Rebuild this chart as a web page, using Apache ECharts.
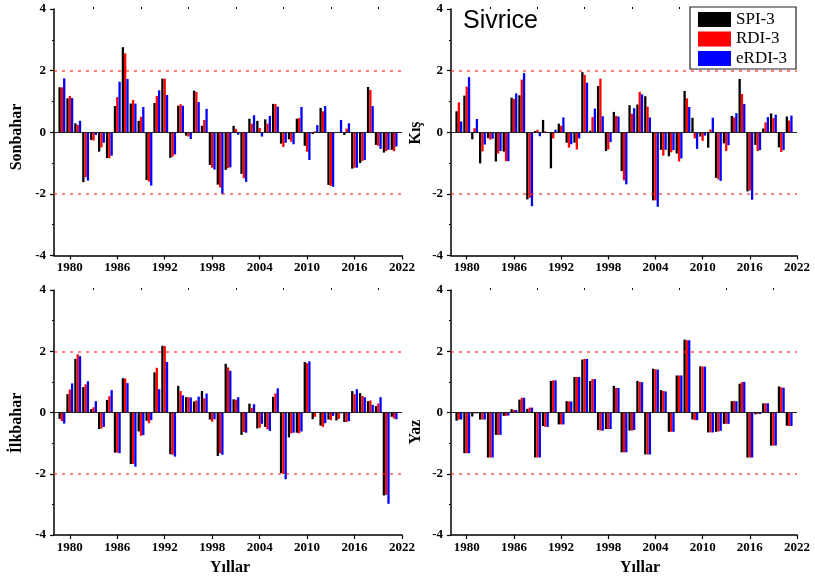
<!DOCTYPE html>
<html>
<head>
<meta charset="utf-8">
<script src="https://cdn.jsdelivr.net/npm/echarts@6/dist/echarts.min.js"></script>
<style>
  html, body { margin: 0; padding: 0; background: #fff; }
  #chart { width: 815px; height: 583px; }
</style>
</head>
<body>
<div id="chart"></div>
<script>
// Years 1979-2021 and the three drought indices for each season at Sivrice
const years = [1979, 1980, 1981, 1982, 1983, 1984, 1985, 1986, 1987, 1988, 1989,
  1990, 1991, 1992, 1993, 1994, 1995, 1996, 1997, 1998, 1999, 2000, 2001, 2002,
  2003, 2004, 2005, 2006, 2007, 2008, 2009, 2010, 2011, 2012, 2013, 2014, 2015,
  2016, 2017, 2018, 2019, 2020, 2021];

const seriesNames = ['SPI-3', 'RDI-3', 'eRDI-3'];
const seriesColors = ['#000000', '#ff0000', '#0000ff'];

const xTickLabels = [1980, 1986, 1992, 1998, 2004, 2010, 2016, 2022];
const xMinorTicks = [1983, 1989, 1995, 2001, 2007, 2013, 2019];

const panelTitles = ['Sonbahar', 'Kış', 'İlkbahar', 'Yaz'];

// Sonbahar (autumn)
const sonbaharSPI = [1.46, 1.10, 0.29, -1.62, -0.25, -0.63, -0.84, 0.85, 2.76, 0.93, 0.37,
  -1.55, 0.95, 1.74, -0.83, 0.86, -0.11, 1.35, 0.21, -1.06, -1.70, -1.22, 0.21, -1.35,
  0.44, 0.37, 0.42, 0.92, -0.37, -0.23, 0.44, -0.44, -0.06, 0.79, -1.71, 0.01, -0.09,
  -1.18, -1.00, 1.47, -0.41, -0.66, -0.57];
const sonbaharRDI = [1.46, 1.18, 0.24, -1.46, -0.27, -0.49, -0.84, 1.14, 2.56, 1.05, 0.50,
  -1.60, 1.18, 1.74, -0.79, 0.91, -0.14, 1.31, 0.40, -1.15, -1.79, -1.17, 0.11, -1.49,
  0.28, 0.14, 0.28, 0.92, -0.48, -0.31, 0.46, -0.63, 0.03, 0.68, -1.74, 0.01, 0.12,
  -1.15, -0.93, 1.37, -0.44, -0.61, -0.61];
const sonbaharERDI = [1.75, 1.11, 0.37, -1.57, -0.09, -0.34, -0.76, 1.64, 1.73, 0.93, 0.82,
  -1.73, 1.36, 1.21, -0.72, 0.86, -0.22, 0.98, 0.76, -1.21, -2.01, -1.14, -0.08, -1.61,
  0.55, -0.14, 0.53, 0.83, -0.34, -0.39, 0.82, -0.90, 0.23, 0.85, -1.77, 0.40, 0.29,
  -1.15, -0.90, 0.85, -0.54, -0.57, -0.46];

// Kış (winter)
const kisSPI = [0.68, 1.19, -0.23, -1.01, -0.19, -0.95, -0.63, 1.12, 1.20, -2.18, 0.04,
  0.40, -1.17, 0.28, -0.34, -0.34, 1.95, 0.05, 1.50, -0.61, 0.66, -1.26, 0.88, 0.90,
  1.17, -2.21, -0.57, -0.78, -0.69, 1.34, 0.47, -0.14, -0.50, -1.48, -0.36, 0.53, 1.73,
  -1.92, -0.41, 0.12, 0.61, -0.49, 0.51];
const kisRDI = [0.97, 1.48, 0.13, -0.62, -0.24, -0.69, -0.94, 1.08, 1.71, -2.13, 0.08,
  0.03, -0.20, 0.21, -0.50, -0.56, 1.86, 0.49, 1.74, -0.56, 0.53, -1.56, 0.60, 1.31,
  0.83, -2.21, -0.76, -0.65, -0.95, 1.10, -0.20, -0.28, 0.09, -1.53, -0.61, 0.48, 1.24,
  -1.89, -0.61, 0.32, 0.46, -0.64, 0.38];
const kisERDI = [0.35, 1.79, 0.43, -0.40, -0.21, -0.61, -0.94, 1.26, 1.92, -2.40, -0.13,
  -0.02, 0.08, 0.48, -0.39, -0.20, 1.61, 0.77, 0.52, -0.32, 0.51, -1.69, 0.78, 1.23,
  0.48, -2.42, -0.57, -0.58, -0.85, 0.82, -0.54, -0.11, 0.47, -1.58, -0.42, 0.62, 0.92,
  -2.19, -0.58, 0.49, 0.57, -0.58, 0.54];

// İlkbahar (spring)
const ilkbaharSPI = [-0.21, 0.60, 1.75, 0.83, 0.11, -0.54, 0.41, -1.31, 1.12, -1.68, -0.62,
  -0.27, 1.31, 2.18, -1.36, 0.87, 0.50, 0.36, 0.70, -0.23, -1.42, 1.59, 0.43, -0.73,
  0.29, -0.52, -0.47, 0.51, -1.98, -0.81, -0.66, 1.65, -0.22, -0.43, -0.23, -0.26, -0.31,
  0.70, 0.63, 0.37, 0.21, -2.71, -0.14];
const ilkbaharRDI = [-0.28, 0.75, 1.90, 0.92, 0.17, -0.52, 0.53, -1.31, 1.11, -1.68, -0.76,
  -0.35, 1.46, 2.17, -1.38, 0.70, 0.50, 0.39, 0.46, -0.30, -1.33, 1.47, 0.42, -0.64,
  0.15, -0.50, -0.55, 0.62, -2.01, -0.68, -0.68, 1.61, -0.14, -0.47, -0.25, -0.21, -0.31,
  0.60, 0.54, 0.39, 0.29, -2.69, -0.20];
const ilkbaharERDI = [-0.36, 0.95, 1.84, 1.02, 0.37, -0.47, 0.73, -1.33, 0.96, -1.77, -0.74,
  -0.25, 0.76, 1.65, -1.44, 0.56, 0.49, 0.52, 0.62, -0.22, -1.38, 1.36, 0.50, -0.66,
  0.27, -0.37, -0.60, 0.79, -2.18, -0.66, -0.62, 1.67, 0.02, -0.35, -0.11, -0.03, -0.28,
  0.76, 0.50, 0.25, 0.50, -2.98, -0.22];

// Yaz (summer)
const yazSPI = [-0.27, -1.33, -0.13, -0.23, -1.47, -0.73, -0.11, 0.11, 0.42, 0.12, -1.47,
  -0.44, 1.03, -0.39, 0.37, 1.16, 1.73, 1.03, -0.57, -0.54, 0.87, -1.30, -0.59, 1.03,
  -1.37, 1.43, 0.73, -0.63, 1.21, 2.38, -0.23, 1.51, -0.65, -0.63, -0.37, 0.37, 0.94,
  -1.47, -0.06, 0.30, -1.08, 0.85, -0.43];
const yazRDI = [-0.23, -1.33, -0.03, -0.23, -1.47, -0.73, -0.11, 0.08, 0.48, 0.16, -1.47,
  -0.47, 1.05, -0.39, 0.36, 1.16, 1.75, 1.09, -0.59, -0.54, 0.80, -1.30, -0.59, 1.00,
  -1.37, 1.41, 0.70, -0.63, 1.21, 2.36, -0.25, 1.50, -0.65, -0.62, -0.37, 0.37, 0.99,
  -1.47, -0.05, 0.30, -1.08, 0.82, -0.44];
const yazERDI = [-0.23, -1.33, -0.03, -0.23, -1.47, -0.73, -0.10, 0.08, 0.48, 0.16, -1.47,
  -0.47, 1.05, -0.39, 0.36, 1.16, 1.75, 1.09, -0.59, -0.54, 0.80, -1.30, -0.57, 0.99,
  -1.37, 1.40, 0.69, -0.63, 1.21, 2.36, -0.25, 1.50, -0.65, -0.60, -0.37, 0.37, 1.00,
  -1.47, -0.05, 0.30, -1.08, 0.81, -0.44];

const panels = [
  [sonbaharSPI, sonbaharRDI, sonbaharERDI],
  [kisSPI, kisRDI, kisERDI],
  [ilkbaharSPI, ilkbaharRDI, ilkbaharERDI],
  [yazSPI, yazRDI, yazERDI]
];

// ---- layout ----
const SERIF = '"Liberation Serif", "Times New Roman", serif';
const grids = [
  { left: 54, top: 9, width: 348, height: 246.5 },
  { left: 451, top: 9, width: 346, height: 246.5 },
  { left: 54, top: 290, width: 348, height: 245 },
  { left: 451, top: 290, width: 346, height: 245 }
];

const axisLineStyle = { color: '#000', width: 1.5 };
const tickFont = { color: '#000', fontFamily: SERIF, fontWeight: 'bold', fontSize: 13 };

const xAxes = [];
const yAxes = [];
const series = [];

grids.forEach((g, i) => {
  // main year axis
  xAxes.push({
    type: 'value', gridIndex: i, min: 1978, max: 2022,
    axisLine: { show: true, onZero: false, lineStyle: axisLineStyle },
    axisTick: { show: true, customValues: xTickLabels, length: 4, lineStyle: { color: '#000', width: 1.2 } },
    axisLabel: {
      show: true, customValues: xTickLabels, margin: 6,
      formatter: v => String(v), ...tickFont
    },
    splitLine: { show: false }
  });
  // small ticks halfway between labelled years
  xAxes.push({
    type: 'value', gridIndex: i, min: 1978, max: 2022,
    axisLine: { show: false, onZero: false },
    axisTick: { show: true, customValues: xMinorTicks, length: 2, lineStyle: { color: '#000', width: 1 } },
    axisLabel: { show: false },
    splitLine: { show: false }
  });
  yAxes.push({
    type: 'value', gridIndex: i, min: -4, max: 4, interval: 2,
    axisLine: { show: true, lineStyle: axisLineStyle },
    axisTick: { show: true, length: 4, lineStyle: { color: '#000', width: 1.2 } },
    minorTick: { show: true, splitNumber: 2, length: 2, lineStyle: { color: '#000', width: 1 } },
    axisLabel: { margin: 8, ...tickFont },
    splitLine: { show: false }
  });

  panels[i].forEach((vals, s) => {
    const item = {
      name: seriesNames[s],
      type: 'bar',
      xAxisIndex: 2 * i,
      yAxisIndex: i,
      data: years.map((yr, k) => [yr, vals[k]]),
      barWidth: 2.3,
      barGap: '0%',
      barCategoryGap: '5%',
      itemStyle: { color: seriesColors[s] },
      animation: false,
      silent: true
    };
    if (s === 0) {
      // ±2 threshold lines and the zero line
      item.markLine = {
        silent: true, symbol: ['none', 'none'], animation: false,
        label: { show: false },
        data: [
          { yAxis: 2, lineStyle: { color: 'rgba(255,40,40,0.8)', width: 1.5, type: [3, 5] } },
          { yAxis: -2, lineStyle: { color: 'rgba(255,40,40,0.8)', width: 1.5, type: [3, 5] } },
          { yAxis: 0, lineStyle: { color: '#222', width: 1.2, type: 'solid' } }
        ]
      };
    }
    series.push(item);
  });
});

// axis titles and the station name
const nameFont = 'bold 16px ' + SERIF;
const graphics = [
  { type: 'text', x: 17, y: 137, rotation: Math.PI / 2, style: { text: panelTitles[0], font: nameFont, fill: '#000', align: 'center', verticalAlign: 'middle' } },
  { type: 'text', x: 416, y: 133, rotation: Math.PI / 2, style: { text: panelTitles[1], font: nameFont, fill: '#000', align: 'center', verticalAlign: 'middle' } },
  { type: 'text', x: 17, y: 423, rotation: Math.PI / 2, style: { text: panelTitles[2], font: nameFont, fill: '#000', align: 'center', verticalAlign: 'middle' } },
  { type: 'text', x: 416, y: 432, rotation: Math.PI / 2, style: { text: panelTitles[3], font: nameFont, fill: '#000', align: 'center', verticalAlign: 'middle' } },
  { type: 'text', x: 230, y: 568, style: { text: 'Yıllar', font: nameFont, fill: '#000', align: 'center', verticalAlign: 'middle' } },
  { type: 'text', x: 640, y: 568, style: { text: 'Yıllar', font: nameFont, fill: '#000', align: 'center', verticalAlign: 'middle' } },
  { type: 'text', x: 463, y: 9, style: { text: 'Sivrice', font: 'normal 25px "Liberation Sans", Arial, sans-serif', fill: '#000', align: 'left', verticalAlign: 'top' } }
];

const chart = echarts.init(document.getElementById('chart'), null, { renderer: 'canvas' });
chart.setOption({
  backgroundColor: '#ffffff',
  animation: false,
  grid: grids,
  xAxis: xAxes,
  yAxis: yAxes,
  legend: {
    data: seriesNames,
    orient: 'vertical',
    left: 690, top: 7,
    icon: 'rect',
    itemWidth: 33, itemHeight: 15, itemGap: 2.5,
    padding: [4, 9, 2, 8],
    borderColor: '#222', borderWidth: 1.2,
    backgroundColor: '#ffffff',
    selectedMode: false,
    textStyle: { color: '#000', fontFamily: SERIF, fontSize: 17, lineHeight: 17 }
  },
  graphic: graphics,
  series: series
});
</script>
</body>
</html>
